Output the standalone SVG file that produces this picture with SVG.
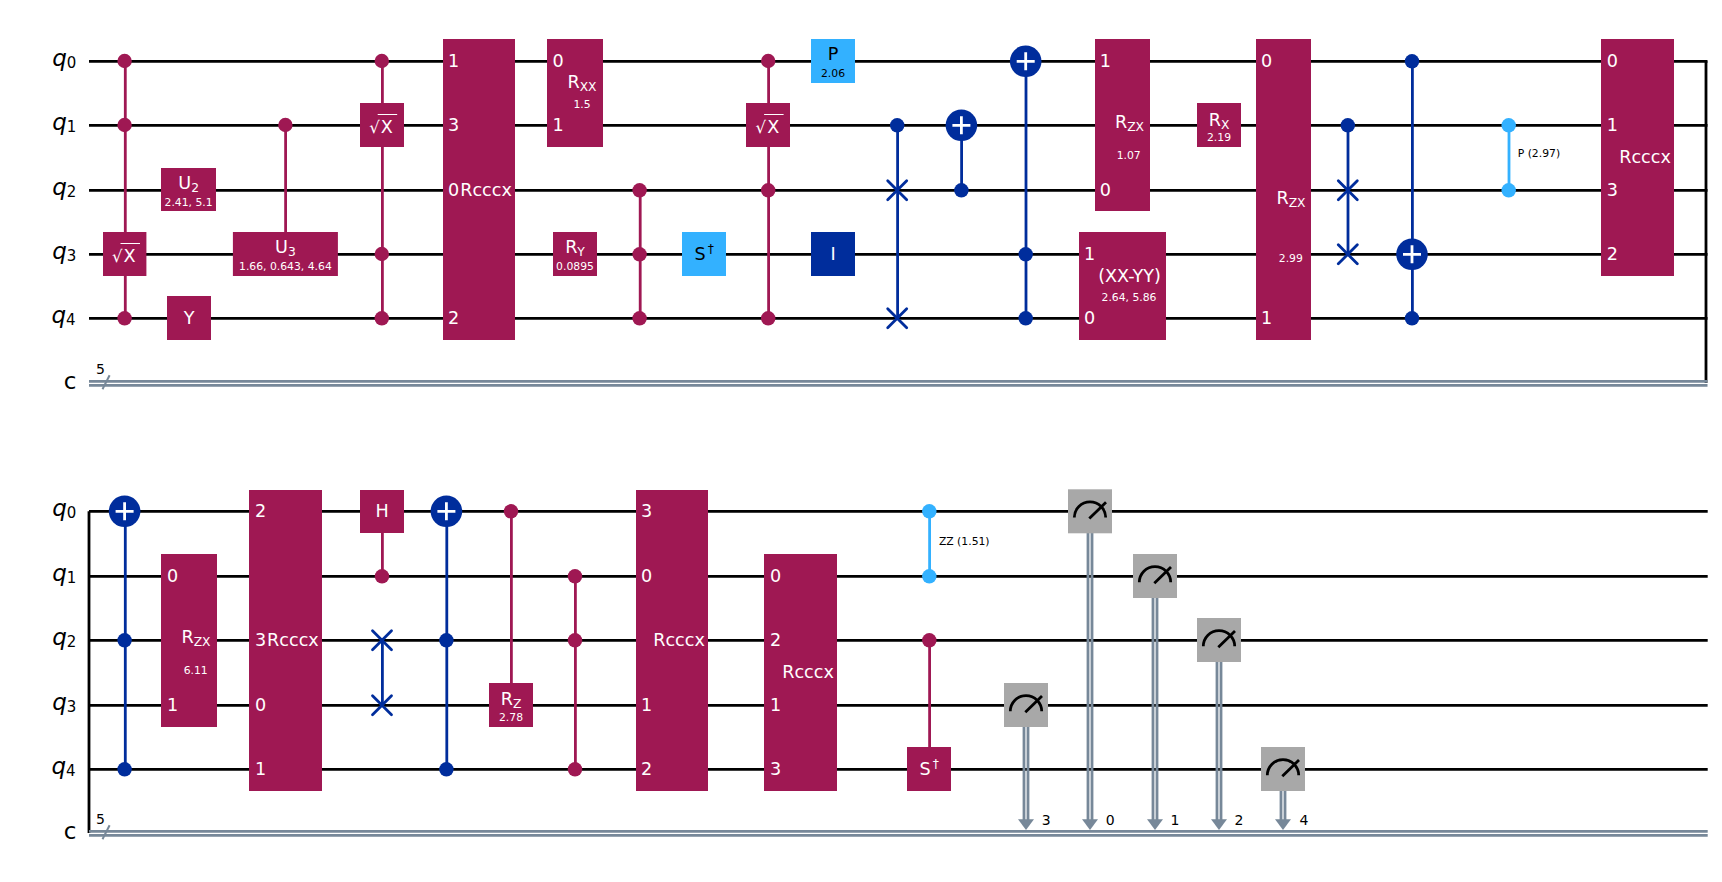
<svg xmlns="http://www.w3.org/2000/svg" xmlns:xlink="http://www.w3.org/1999/xlink" width="1722" height="882" viewBox="0 0 1722 882">
<style>
text{font-family:"DejaVu Sans",sans-serif}
.w{stroke:#000;stroke-width:2.8;fill:none}
.cw{stroke:#778899;stroke-width:2.8;fill:none}
.m{stroke:#778899;stroke-width:2.8;fill:none}
.lp{stroke:#9f1853;stroke-width:2.8}
.lb{stroke:#002d9c;stroke-width:2.8}
.lc{stroke:#33b1ff;stroke-width:2.8}
.fp{fill:#9f1853}
.fb{fill:#002d9c}
.fc{fill:#33b1ff}
.fg{fill:#a8a8a8}
.t{fill:#fff;font-size:17.6px;text-anchor:middle}
.tk{fill:#000;font-size:17.6px;text-anchor:middle}
.st{fill:#fff;font-size:17.6px;text-anchor:start}
.rt{fill:#fff;font-size:16.5px;text-anchor:start}
.p{fill:#fff;font-size:10.8px;text-anchor:middle}
.pk{fill:#000;font-size:10.8px;text-anchor:middle}
.k{fill:#000;font-size:10.8px}
.n{fill:#000;font-size:14px;text-anchor:middle}
.q{fill:#000;font-size:23px;text-anchor:end}
.qi{font-style:italic}
.s{font-size:15px}
.sb{font-size:12.3px}
.x{stroke:#002d9c;stroke-width:2.8;stroke-linecap:round;fill:none}
.pl{stroke:#fff;stroke-width:2.8;fill:none}
.ov{stroke:#fff;stroke-width:1;fill:none}
.mt{stroke:#000;stroke-width:2.8;fill:none}
.sl{stroke:#778899;stroke-width:2}
</style>
<defs>
<g id="plus"><circle r="15.8" class="fb"/><path class="pl" d="M-9 0H9M0-9V9"/></g>
<path id="swapx" class="x" d="M-9.5-9.5L9.5 9.5M-9.5 9.5L9.5-9.5"/>
<circle id="dp" r="7.2" class="fp"/>
<circle id="db" r="7.2" class="fb"/>
<circle id="dc" r="7.2" class="fc"/>
<g id="meter"><rect x="-22" y="-22" width="44" height="44" class="fg"/><path class="mt" d="M-15.7 6.3A15.7 15.7 0 0 1 15.7 6.3M-0.7 7.3L16-9"/></g>
<polygon id="arrow" points="-8,0 8,0 0,10.7" fill="#778899"/>
</defs>

<g id="connectors">
<g id="wires">
<path class="w" d="M89 61.3H1707.5M89 125.3H1707.5M89 190.3H1707.5M89 254.3H1707.5M89 318.3H1707.5"/>
<path class="w" d="M1706 61.3V383"/>
<path class="cw" d="M89 381.3H1707.5M89 385.3H1707.5"/>
<path class="w" d="M89 511.3H1707.7M89 576.3H1707.7M89 640.3H1707.7M89 705.3H1707.7M89 769.3H1707.7"/>
<path class="w" d="M89 511.3V833"/>
<path class="cw" d="M89 831.3H1707.7M89 835.3H1707.7"/>
<line class="sl" x1="102.5" y1="389.3" x2="109.6" y2="375.3"/>
<line class="sl" x1="102.5" y1="839.3" x2="109.6" y2="825.3"/>
</g>
<line class="lp" x1="125.3" y1="61" x2="125.3" y2="318"/>
<line class="lp" x1="285.6" y1="125" x2="285.6" y2="232"/>
<line class="lp" x1="382.4" y1="61" x2="382.4" y2="318"/>
<line class="lp" x1="640.2" y1="190" x2="640.2" y2="318"/>
<line class="lp" x1="768.6" y1="61" x2="768.6" y2="318"/>
<line class="lb" x1="897.6" y1="125" x2="897.6" y2="318"/>
<line class="lb" x1="961.6" y1="125" x2="961.6" y2="190"/>
<line class="lb" x1="1026" y1="61" x2="1026" y2="318"/>
<line class="lb" x1="1348" y1="125" x2="1348" y2="254"/>
<line class="lb" x1="1412.4" y1="61" x2="1412.4" y2="318"/>
<line class="lc" x1="1509" y1="125" x2="1509" y2="190"/>
<line class="lb" x1="125.3" y1="511" x2="125.3" y2="769"/>
<line class="lp" x1="382.4" y1="511" x2="382.4" y2="576"/>
<line class="lb" x1="382.4" y1="640" x2="382.4" y2="705"/>
<line class="lb" x1="446.8" y1="511" x2="446.8" y2="769"/>
<line class="lp" x1="511.4" y1="511" x2="511.4" y2="683"/>
<line class="lp" x1="575.4" y1="576" x2="575.4" y2="769"/>
<line class="lc" x1="929.6" y1="511" x2="929.6" y2="576"/>
<line class="lp" x1="929.6" y1="640" x2="929.6" y2="747"/>
<path class="m" d="M1024 727V822M1028 727V822"/>
<path class="m" d="M1088 532V822M1092 532V822"/>
<path class="m" d="M1153 598V822M1157 598V822"/>
<path class="m" d="M1217 662V822M1221 662V822"/>
<path class="m" d="M1281 791V822M1285 791V822"/>
<use href="#arrow" x="1026" y="819.3"/>
<use href="#arrow" x="1090" y="819.3"/>
<use href="#arrow" x="1155" y="819.3"/>
<use href="#arrow" x="1219" y="819.3"/>
<use href="#arrow" x="1283" y="819.3"/>
</g>

<g id="register-labels">
<text class="q" x="76.4" y="65.6"><tspan class="qi">q</tspan><tspan class="s" dy="2.4">0</tspan></text>
<text class="q" x="76.4" y="129.6"><tspan class="qi">q</tspan><tspan class="s" dy="2.4">1</tspan></text>
<text class="q" x="76.4" y="194.6"><tspan class="qi">q</tspan><tspan class="s" dy="2.4">2</tspan></text>
<text class="q" x="76.4" y="258.6"><tspan class="qi">q</tspan><tspan class="s" dy="2.4">3</tspan></text>
<text class="q" x="75.6" y="322.6"><tspan class="qi">q</tspan><tspan class="s" dy="2.4">4</tspan></text>
<text class="q" x="76.4" y="389.3">c</text>
<text class="n" x="100.4" y="374">5</text>
<text class="q" x="76.4" y="515.6"><tspan class="qi">q</tspan><tspan class="s" dy="2.4">0</tspan></text>
<text class="q" x="76.4" y="580.6"><tspan class="qi">q</tspan><tspan class="s" dy="2.4">1</tspan></text>
<text class="q" x="76.4" y="644.6"><tspan class="qi">q</tspan><tspan class="s" dy="2.4">2</tspan></text>
<text class="q" x="76.4" y="709.6"><tspan class="qi">q</tspan><tspan class="s" dy="2.4">3</tspan></text>
<text class="q" x="75.6" y="773.6"><tspan class="qi">q</tspan><tspan class="s" dy="2.4">4</tspan></text>
<text class="q" x="76.4" y="839.3">c</text>
<text class="n" x="100.4" y="824">5</text>
</g>

<g id="t-c3sx">
<use href="#dp" x="124.6" y="61"/><use href="#dp" x="124.6" y="125"/><use href="#dp" x="124.6" y="318.3"/>
<rect class="fp" x="103" y="232" width="43.4" height="44"/>
<text class="rt" x="112" y="261.5">√</text><text class="st" x="123.6" y="261.5">X</text>
<line class="ov" x1="120.5" y1="243.5" x2="140" y2="243.5"/>
</g>
<g id="t-u2"><rect class="fp" x="161" y="168" width="55" height="43"/>
<text class="t" x="188.6" y="189.3">U<tspan class="sb" dy="3">2</tspan></text><text class="p" x="188.6" y="206">2.41, 5.1</text></g>
<g id="t-y"><rect class="fp" x="167" y="296" width="44" height="44"/><text class="t" x="189" y="324">Y</text></g>
<g id="t-cu3"><use href="#dp" x="285.4" y="125"/><rect class="fp" x="232.9" y="232" width="105" height="44"/>
<text class="t" x="285.4" y="253.3">U<tspan class="sb" dy="3">3</tspan></text><text class="p" x="285.4" y="270">1.66, 0.643, 4.64</text></g>
<g id="t-c3sx2">
<use href="#dp" x="381.8" y="61"/><use href="#dp" x="381.8" y="254"/><use href="#dp" x="381.8" y="318.3"/>
<rect class="fp" x="360" y="103" width="44" height="44"/>
<text class="rt" x="369.2" y="132.5">√</text><text class="st" x="380.8" y="132.5">X</text>
<line class="ov" x1="377.7" y1="114.5" x2="397.2" y2="114.5"/>
</g>
<g id="t-rcccx1"><rect class="fp" x="443" y="39" width="72" height="301"/>
<text class="t" x="453.6" y="67">1</text><text class="t" x="453.6" y="131">3</text><text class="t" x="453.6" y="196">0</text><text class="t" x="453.6" y="324">2</text>
<text class="t" x="486" y="195.7">Rcccx</text></g>
<g id="t-rxx"><rect class="fp" x="547" y="39" width="56" height="108"/>
<text class="t" x="558" y="67">0</text><text class="t" x="558" y="131">1</text>
<text class="t" x="582" y="88.3">R<tspan class="sb" dy="3">XX</tspan></text><text class="p" x="582" y="108">1.5</text></g>
<g id="t-ry"><rect class="fp" x="553" y="232" width="44" height="44"/>
<text class="t" x="575" y="253.3">R<tspan class="sb" dy="3">Y</tspan></text><text class="p" x="575" y="270">0.0895</text></g>
<g id="t-ccz"><use href="#dp" x="639.6" y="190.3"/><use href="#dp" x="639.6" y="254.3"/><use href="#dp" x="639.6" y="318.3"/></g>
<g id="t-sdg"><rect class="fc" x="682" y="232" width="44" height="44"/>
<text class="tk" style="text-anchor:start" x="694.5" y="260.3">S<tspan class="sb" x="707.7" dy="-7">†</tspan></text></g>
<g id="t-c3sx3">
<use href="#dp" x="768.2" y="61"/><use href="#dp" x="768.2" y="190.3"/><use href="#dp" x="768.2" y="318.3"/>
<rect class="fp" x="746" y="103" width="44" height="44"/>
<text class="rt" x="755.6" y="132.5">√</text><text class="st" x="767.2" y="132.5">X</text>
<line class="ov" x1="764.1" y1="114.5" x2="783.6" y2="114.5"/>
</g>
<g id="t-p"><rect class="fc" x="811" y="39" width="44" height="44"/>
<text class="tk" x="833" y="60">P</text><text class="pk" x="833" y="77.3">2.06</text></g>
<g id="t-i"><rect class="fb" x="811" y="232" width="44" height="44"/><text class="t" x="833" y="260.3">I</text></g>
<g id="t-cswap"><use href="#db" x="897.2" y="125.3"/><use href="#swapx" x="897.2" y="190.3"/><use href="#swapx" x="897.2" y="318.3"/></g>
<g id="t-cx1"><use href="#plus" x="961.4" y="125.3"/><use href="#db" x="961.4" y="190.3"/></g>
<g id="t-ccx1"><use href="#plus" x="1025.7" y="61.3"/><use href="#db" x="1025.7" y="254.3"/><use href="#db" x="1025.7" y="318.3"/></g>
<g id="t-rzx1"><rect class="fp" x="1095" y="39" width="55" height="172"/>
<text class="t" x="1105.3" y="67">1</text><text class="t" x="1105.3" y="196">0</text>
<text class="t" x="1129.5" y="128.3">R<tspan class="sb" dy="3">ZX</tspan></text><text class="p" x="1128.7" y="159">1.07</text></g>
<g id="t-xxyy"><rect class="fp" x="1079" y="232" width="87" height="108"/>
<text class="t" x="1089.6" y="260.3">1</text><text class="t" x="1089.6" y="324">0</text>
<text class="t" x="1129.5" y="281.7">(XX-YY)</text><text class="p" x="1129" y="300.7">2.64, 5.86</text></g>
<g id="t-rx"><rect class="fp" x="1197" y="103" width="44" height="44"/>
<text class="t" x="1219" y="125.6">R<tspan class="sb" dy="3">X</tspan></text><text class="p" x="1219" y="141">2.19</text></g>
<g id="t-rzx2"><rect class="fp" x="1256" y="39" width="55" height="301"/>
<text class="t" x="1266.5" y="67">0</text><text class="t" x="1266.5" y="324">1</text>
<text class="t" x="1291" y="204">R<tspan class="sb" dy="3">ZX</tspan></text><text class="p" x="1290.8" y="262">2.99</text></g>
<g id="t-cswap2"><use href="#db" x="1347.8" y="125.3"/><use href="#swapx" x="1347.8" y="190.3"/><use href="#swapx" x="1347.8" y="254.3"/></g>
<g id="t-ccx2"><use href="#db" x="1412" y="61.3"/><use href="#plus" x="1412" y="254.3"/><use href="#db" x="1412" y="318.3"/></g>
<g id="t-cp"><use href="#dc" x="1508.7" y="125.3"/><use href="#dc" x="1508.7" y="190.3"/><text class="k" x="1517.7" y="157">P (2.97)</text></g>
<g id="t-rcccx2"><rect class="fp" x="1601" y="39" width="73" height="237"/>
<text class="t" x="1612.3" y="67">0</text><text class="t" x="1612.3" y="131">1</text><text class="t" x="1612.3" y="196">3</text><text class="t" x="1612.3" y="260">2</text>
<text class="t" x="1645" y="163.3">Rcccx</text></g>

<g id="b-ccx1"><use href="#plus" x="124.6" y="511.3"/><use href="#db" x="124.6" y="640.3"/><use href="#db" x="124.6" y="769.3"/></g>
<g id="b-rzx"><rect class="fp" x="161" y="554" width="56" height="173"/>
<text class="t" x="172.5" y="582">0</text><text class="t" x="172.5" y="711">1</text>
<text class="t" x="196" y="642.7">R<tspan class="sb" dy="3">ZX</tspan></text><text class="p" x="195.7" y="674">6.11</text></g>
<g id="b-rcccx1"><rect class="fp" x="249" y="490" width="73" height="301"/>
<text class="t" x="260.7" y="517">2</text><text class="t" x="260.7" y="646">3</text><text class="t" x="260.7" y="711">0</text><text class="t" x="260.7" y="775">1</text>
<text class="t" x="292.9" y="645.7">Rcccx</text></g>
<g id="b-ch"><rect class="fp" x="360" y="490" width="44" height="43"/><text class="t" x="382" y="516.9">H</text><use href="#dp" x="382" y="576.3"/></g>
<g id="b-swap"><use href="#swapx" x="382" y="640.3"/><use href="#swapx" x="382" y="705.3"/></g>
<g id="b-ccx2"><use href="#plus" x="446.4" y="511.3"/><use href="#db" x="446.4" y="640.3"/><use href="#db" x="446.4" y="769.3"/></g>
<g id="b-crz"><use href="#dp" x="511" y="511.3"/><rect class="fp" x="489" y="683" width="44" height="44"/>
<text class="t" x="511" y="705">R<tspan class="sb" dy="3">Z</tspan></text><text class="p" x="511" y="721">2.78</text></g>
<g id="b-ccz"><use href="#dp" x="575" y="576.3"/><use href="#dp" x="575" y="640.3"/><use href="#dp" x="575" y="769.3"/></g>
<g id="b-rcccx2"><rect class="fp" x="636" y="490" width="72" height="301"/>
<text class="t" x="646.5" y="517">3</text><text class="t" x="646.5" y="582">0</text><text class="t" x="646.5" y="711">1</text><text class="t" x="646.5" y="775">2</text>
<text class="t" x="679" y="645.7">Rcccx</text></g>
<g id="b-rcccx3"><rect class="fp" x="764" y="554" width="73" height="237"/>
<text class="t" x="775.5" y="582">0</text><text class="t" x="775.5" y="646">2</text><text class="t" x="775.5" y="711">1</text><text class="t" x="775.5" y="775">3</text>
<text class="t" x="808" y="678.3">Rcccx</text></g>
<g id="b-zz"><use href="#dc" x="929.3" y="511.3"/><use href="#dc" x="929.3" y="576.3"/><text class="k" x="938.9" y="545.3">ZZ (1.51)</text></g>
<g id="b-csdg"><use href="#dp" x="929.3" y="640.3"/><rect class="fp" x="907" y="747" width="44" height="44"/>
<text class="st" x="919.5" y="775.3">S<tspan class="sb" x="932.7" dy="-7">†</tspan></text></g>
<g id="m-3"><use href="#meter" x="1026" y="705"/><text class="n" x="1046.3" y="824.7">3</text></g>
<g id="m-0"><use href="#meter" x="1090" y="511.3"/><text class="n" x="1110.3" y="824.7">0</text></g>
<g id="m-1"><use href="#meter" x="1155" y="576"/><text class="n" x="1175" y="824.7">1</text></g>
<g id="m-2"><use href="#meter" x="1219" y="640"/><text class="n" x="1239" y="824.7">2</text></g>
<g id="m-4"><use href="#meter" x="1283" y="769"/><text class="n" x="1304" y="824.7">4</text></g>
</svg>
